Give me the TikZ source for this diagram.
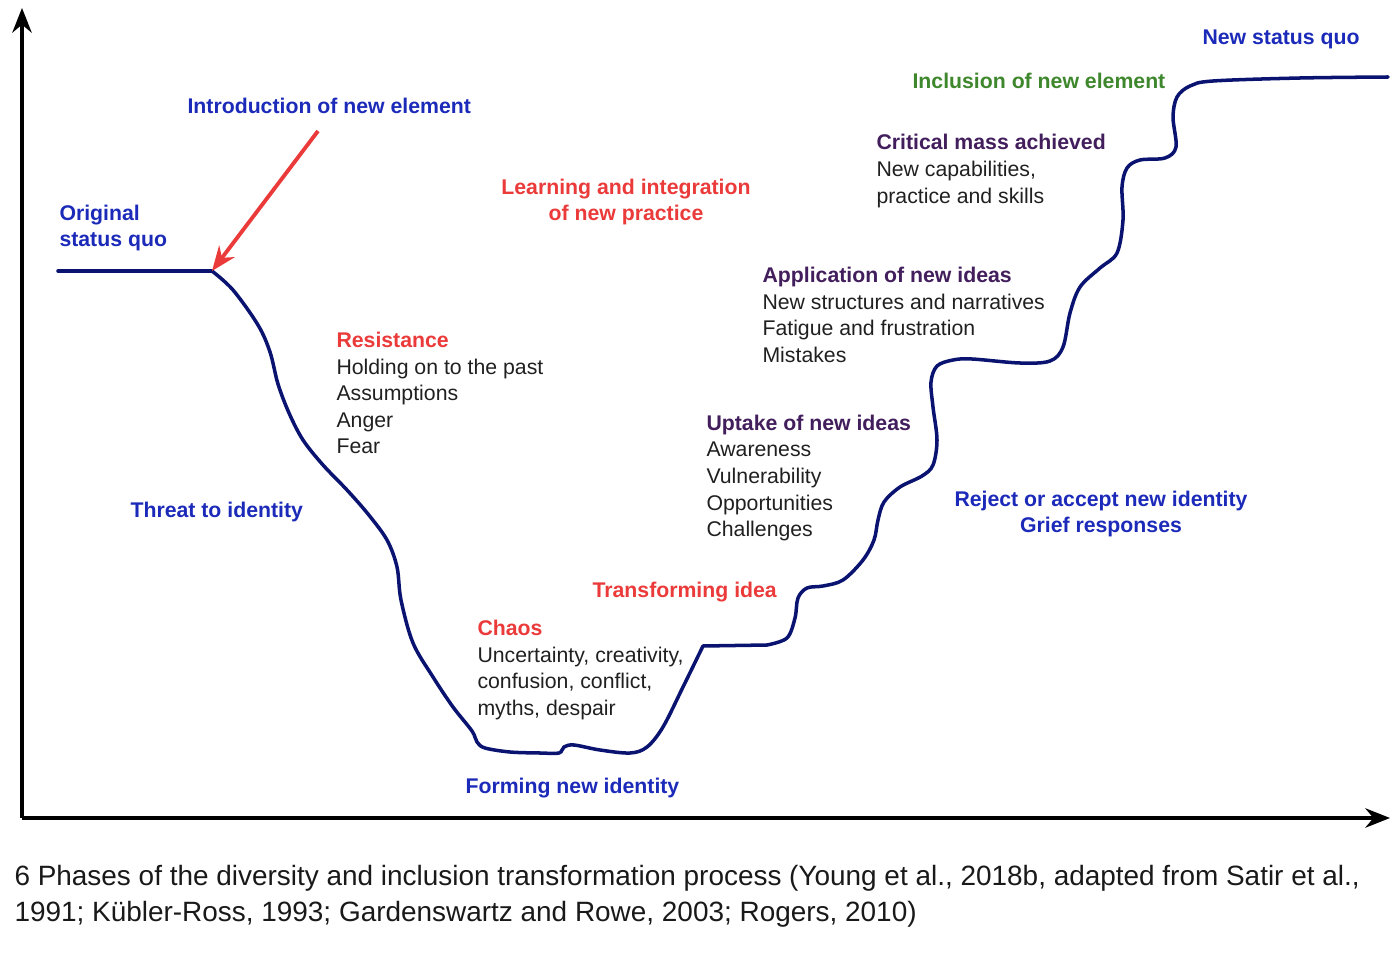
\documentclass[tikz,border=0pt]{standalone}
\usepackage{fontspec}
\setmainfont{Liberation Sans}
\usepackage{xcolor}
\usepackage{tikz}
\usetikzlibrary{arrows.meta}

\definecolor{lblblue}{RGB}{28,42,185}
\definecolor{lblred}{RGB}{235,58,58}
\definecolor{lblgreen}{RGB}{62,135,45}
\definecolor{lblpurple}{RGB}{66,30,92}
\definecolor{txtgray}{RGB}{32,32,32}
\definecolor{curvenavy}{RGB}{10,20,112}

\begin{document}
\begin{tikzpicture}[x=0.02cm,y=-0.02cm,>={Stealth[length=14pt,width=11pt]},semithick]
  \tikzstyle{lbl}=[inner sep=0pt,anchor=west,align=left,font=\fontsize{12.1}{15.1}\selectfont\bfseries]
  \tikzstyle{lst}=[lbl,text=txtgray,font=\fontsize{12.1}{15.1}\selectfont]
  \tikzstyle{axis}=[line width=2.3pt,->]
  \tikzstyle{curve}=[line width=2pt,color=curvenavy,line cap=round,line join=round]
  \useasboundingbox (0,0) rectangle (1400,956);

  % axes
  \coordinate (origin) at (22,818);
  \coordinate (ytip)   at (22,8);
  \coordinate (xtip)   at (1390,818);
  \draw[axis] (origin) -- (ytip);
  \draw[axis] (origin) -- (xtip);

  % the change curve
  \coordinate (start) at (58,271);
  \coordinate (kink)  at (212,271);
  \draw[curve] (start) -- (kink);
  \draw[curve] plot[smooth,tension=0.55] coordinates {(212,271) (233,290) (258,325) (270,352) (278,384)
    (289,413) (303,440) (323,465) (347,490) (368,514) (387,540) (397,567) (401,600) (413,643)
    (433,677) (453,707) (472,731) (477,742) (485,748) (510,752) (540,753) (559,753) (564,747)
    (574,745) (600,750) (630,753) (647,747) (663,727) (683,687) (703,646)};
  \draw[curve] (703,646) -- (767,645);
  \draw[curve] plot[smooth,tension=0.55] coordinates {(767,645) (787,638) (795,618) (798,598)
    (807,588) (823,586) (843,580) (863,560) (874,540) (878,520) (884,502) (900,487) (922,476)
    (933,465) (937,440) (933,407) (931,382) (937,366) (953,360) (972,359) (1020,363) (1050,361)
    (1063,347) (1070,313) (1080,287) (1100,268) (1117,253) (1123,220) (1122,187) (1127,168)
    (1140,160) (1165,158) (1176,147) (1173,117) (1177,97) (1190,86) (1213,81) (1300,78) (1388,77)};

  % introduction arrow
  \coordinate (arrtail) at (318,131);
  \draw[->,line width=2.2pt,color=lblred] (arrtail) -- (kink);

  % labels
  \node[lbl,text=lblblue] (intro) at (187,106) {Introduction of new element};
  \node[lbl,text=lblblue] (orig) at (59,228) {Original\\status quo};
  \node[lbl,text=lblred,align=center,anchor=center] (learn) at (626,202) {Learning and integration\\of new practice};
  \node[lst] (resist) at (336,393) {\textcolor{lblred}{\bfseries Resistance}\\Holding on to the past\\Assumptions\\Anger\\Fear};
  \node[lbl,text=lblblue] (threat) at (130,512) {Threat to identity};
  \node[lst] (chaos) at (477,670) {\textcolor{lblred}{\bfseries Chaos}\\Uncertainty, creativity,\\confusion, conflict,\\myths, despair};
  \node[lbl,text=lblblue] (forming) at (465,788) {Forming new identity};
  \node[lbl,text=lblred] (transf) at (592,592) {Transforming idea};
  \node[lst] (uptake) at (706,478) {\textcolor{lblpurple}{\bfseries Uptake of new ideas}\\Awareness\\Vulnerability\\Opportunities\\Challenges};
  \node[lst] (applic) at (762,315) {\textcolor{lblpurple}{\bfseries Application of new ideas}\\New structures and narratives\\Fatigue and frustration\\Mistakes};
  \node[lst] (critical) at (876,171) {\textcolor{lblpurple}{\bfseries Critical mass achieved}\\New capabilities,\\practice and skills};
  \node[lbl,text=lblgreen] (inclusion) at (912,81) {Inclusion of new element};
  \node[lbl,text=lblblue] (newsq) at (1202,39) {New status quo};
  \node[lbl,text=lblblue,align=center,anchor=center] (reject) at (1101,514) {Reject or accept new identity\\Grief responses};

  % caption
  \node[lst,text=black!90,font=\fontsize{15.9}{20.4}\selectfont] (caption) at (14,896)
    {6 Phases of the diversity and inclusion transformation process (Young et al., 2018b, adapted from Satir et al.,\\1991; Kübler-Ross, 1993; Gardenswartz and Rowe, 2003; Rogers, 2010)};
\end{tikzpicture}
\end{document}
